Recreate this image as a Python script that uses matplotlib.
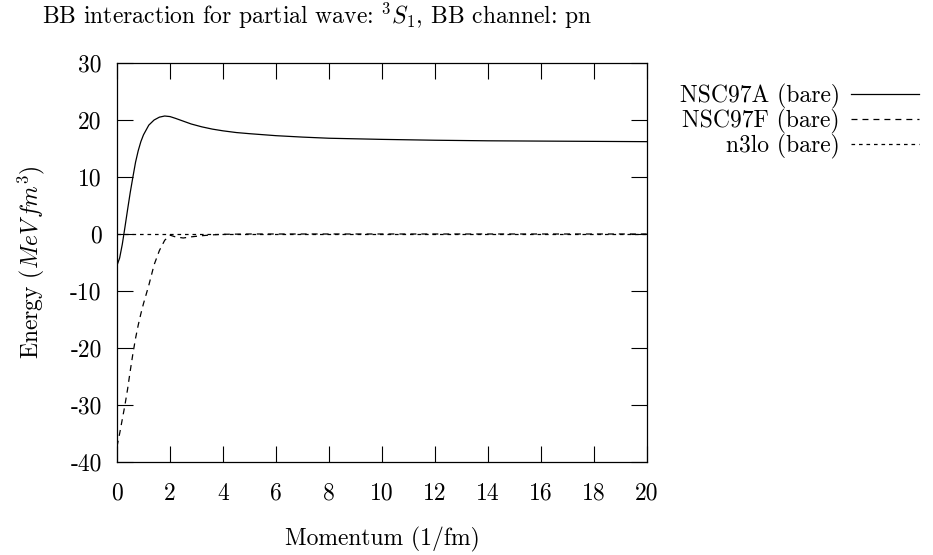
import matplotlib
matplotlib.use("Agg")
import matplotlib.pyplot as plt

plt.rcParams['font.family'] = 'cmr10'
plt.rcParams['mathtext.fontset'] = 'cm'
plt.rcParams['axes.unicode_minus'] = False
plt.rcParams['lines.scale_dashes'] = False

# curves
mom_a = [0, 0.1, 0.2, 0.3, 0.4, 0.5, 0.6, 0.7, 0.8, 0.9, 1.0, 1.2, 1.4, 1.6, 1.8,
         2.0, 2.2, 2.5, 2.8, 3.2, 3.6, 4.0, 4.5, 5, 6, 7, 8, 9, 10, 12, 14, 16, 18, 20]
nsc97a = [-5.5, -4.2, -1.8, 1.2, 4.3, 7.3, 10.0, 12.6, 14.6, 16.2, 17.4, 19.1, 20.0,
          20.5, 20.7, 20.6, 20.3, 19.8, 19.3, 18.8, 18.4, 18.1, 17.8, 17.6, 17.25,
          17.0, 16.8, 16.7, 16.6, 16.45, 16.35, 16.3, 16.25, 16.2]

mom_f = [0, 0.1, 0.2, 0.3, 0.4, 0.5, 0.6, 0.7, 0.8, 0.9, 1.0, 1.2, 1.4, 1.6, 1.8,
         2.0, 2.2, 2.5, 2.8, 3.2, 3.6, 4, 5, 20]
nsc97f = [-37.3, -35, -32.5, -30, -27.2, -24, -21, -18.3, -16, -14, -12.2, -9, -5.4,
          -2.9, -1.1, -0.2, -0.5, -0.7, -0.5, -0.3, -0.15, -0.05, 0, 0]

mom_n = [0, 20]
n3lo = [0, 0]

xticks = [0, 2, 4, 6, 8, 10, 12, 14, 16, 18, 20]
yticks = [-40, -30, -20, -10, 0, 10, 20, 30]

FS = 17

fig = plt.figure(figsize=(9.33, 5.55), dpi=100)
ax = fig.add_axes([117/933, 1 - 462/555, 530/933, 399/555])

ax.plot(mom_a, nsc97a, color='black', lw=0.9, label='NSC97A (bare)')
ax.plot(mom_f, nsc97f, color='black', lw=0.9, dashes=(4.3, 3.6), label='NSC97F (bare)')
ax.plot(mom_n, n3lo, color='black', lw=0.9, dashes=(2.6, 2.8), label='n3lo (bare)')

ax.set_xlim(0, 20)
ax.set_ylim(-40, 30)
ax.set_xticks(xticks)
ax.set_xticklabels([str(v) for v in xticks])
ax.set_yticks(yticks)
ax.set_yticklabels([str(v) for v in yticks])
ax.tick_params(direction='in', length=11.5, width=0.8, top=True, right=True,
               labelsize=FS, colors='black')
ax.tick_params(axis='x', pad=15)
ax.tick_params(axis='y', pad=11)
for s in ax.spines.values():
    s.set_linewidth(0.9)

ax.set_xlabel('Momentum (1/fm)', fontsize=FS, labelpad=15.5)
ax.set_ylabel(r'Energy ($MeV\,fm^3$)', fontsize=FS, labelpad=17)
fig.text(42/933, 1 - 16/555, r'BB interaction for partial wave: $^3S_1$, BB channel: pn',
         fontsize=FS, ha='left', va='center')

ax.legend(loc='upper right', bbox_to_anchor=(919/933, 1 - 84/555),
          bbox_transform=fig.transFigure, frameon=False, markerfirst=False,
          fontsize=FS, handlelength=2.9, handletextpad=0.45, labelspacing=0.0,
          borderpad=0, borderaxespad=0)

fig.savefig('out.png', dpi=100)
